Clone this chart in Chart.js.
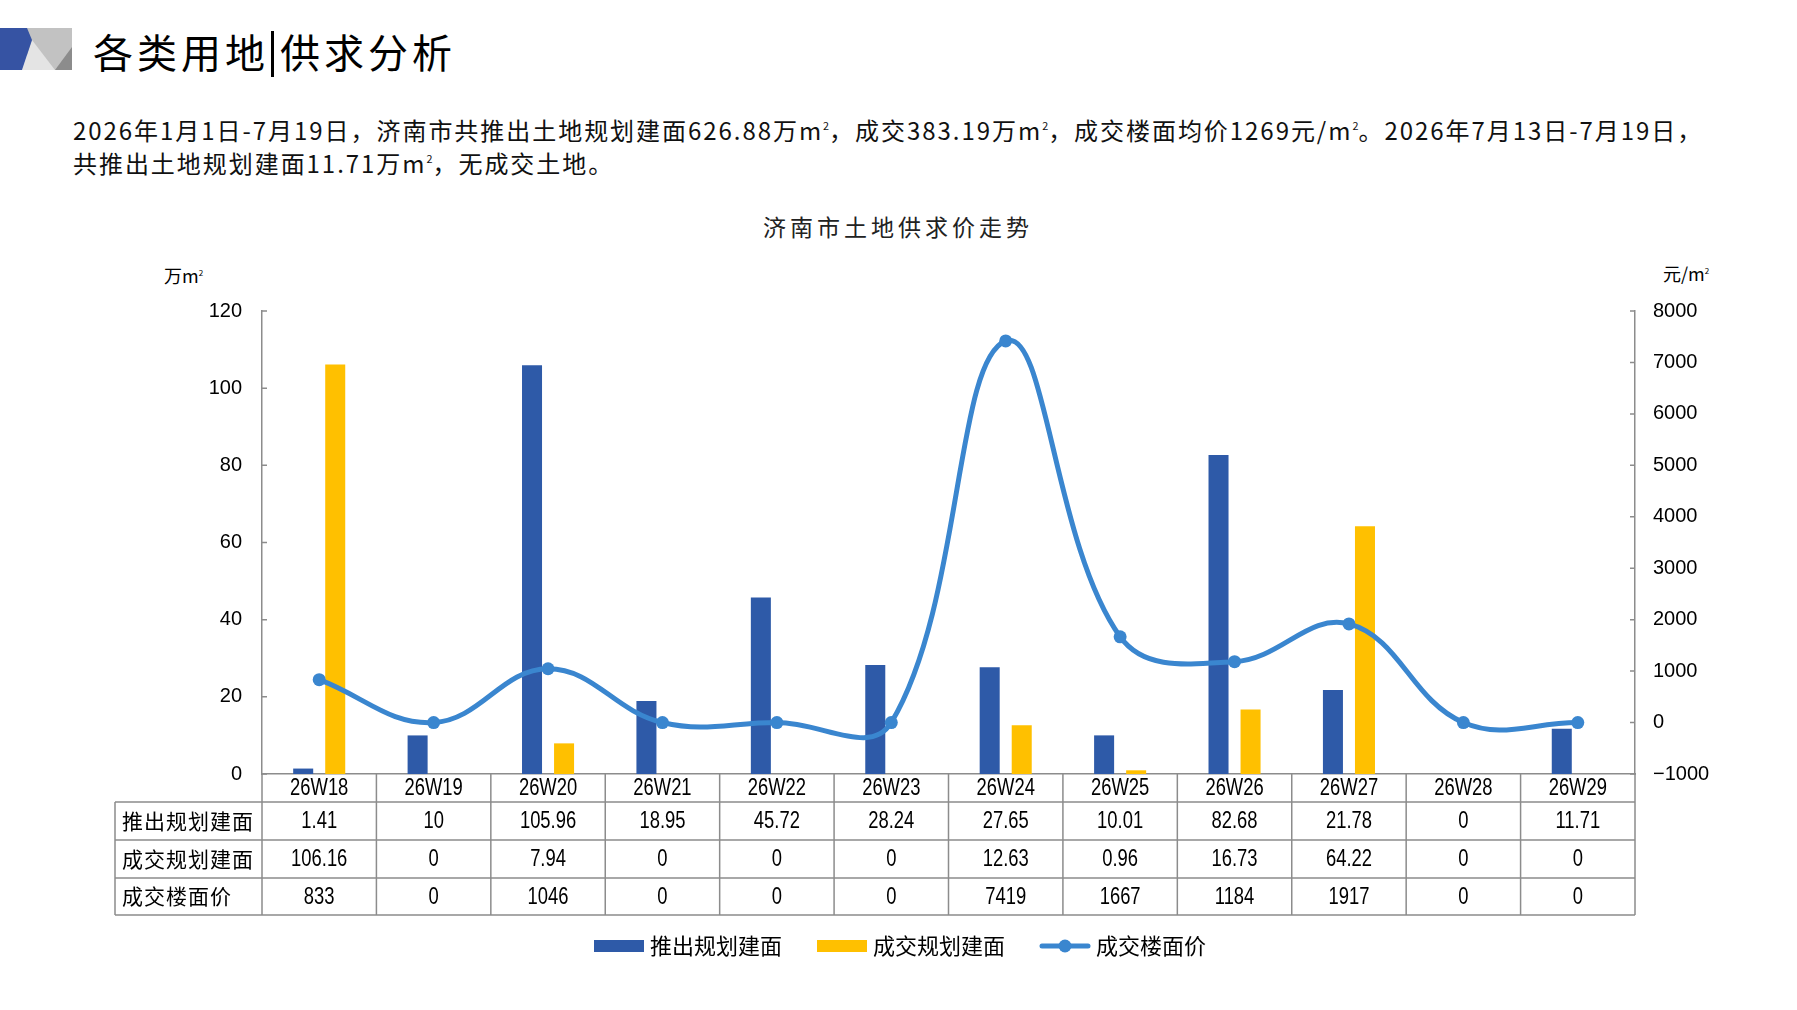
<!DOCTYPE html>
<html><head><meta charset="utf-8">
<script src="https://cdn.jsdelivr.net/npm/chart.js@4.4.1/dist/chart.umd.min.js"></script>
<style>
html,body{margin:0;padding:0;background:#fff;width:1797px;height:1010px;overflow:hidden;}
#c{position:absolute;left:0;top:0;}
.t{position:absolute;white-space:nowrap;color:#000;font-family:'Noto Sans CJK SC',sans-serif;line-height:1;}
.vbar{display:inline-block;width:3px;height:46px;background:#000;vertical-align:middle;margin:0 6px 0 2px;position:relative;top:-3px;}
sup{font-size:0.45em;vertical-align:0.9em;letter-spacing:0;}
</style></head><body>
<svg width="80" height="80" style="position:absolute;left:0;top:0">
  <rect x="27" y="28" width="45" height="42" fill="#c2c2c2"/>
  <polygon points="32,40 55,70 22,70" fill="#e4e4e4"/>
  <polygon points="55,70 72,47 72,70" fill="#8c8c8c"/>
  <polygon points="0,28 27,28 32,40 22,70 0,70" fill="#3653a3"/>
</svg>
<div class="t" id="title" style="left:93px;top:31px;font-size:40px;letter-spacing:4px;">各类用地<span class="vbar"></span>供求分析</div>
<div class="t" id="p1" style="left:73px;top:118px;font-size:24px;color:#111;">2026年1月1日-7月19日，济南市共推出土地规划建面626.88万m<sup>2</sup>，成交383.19万m<sup>2</sup>，成交楼面均价1269元/m<sup>2</sup>。2026年7月13日-7月19日，</div>
<div class="t" id="p2" style="left:73px;top:151px;font-size:24px;color:#111;">共推出土地规划建面11.71万m<sup>2</sup>，无成交土地。</div>
<div class="t" id="ctitle" style="left:898px;top:215px;font-size:23px;letter-spacing:4px;transform:translateX(-50%);color:#222;">济南市土地供求价走势</div>
<div class="t" style="left:164px;top:266px;font-size:18px;">万m<sup>2</sup></div>
<div class="t" style="left:1663px;top:264px;font-size:18px;">元/m<sup>2</sup></div>
<canvas id="c" width="1797" height="1010"></canvas>
<script>
// ---- data ----
const weeks = ['26W18','26W19','26W20','26W21','26W22','26W23','26W24','26W25','26W26','26W27','26W28','26W29'];
const supplyArea = [1.41, 10, 105.96, 18.95, 45.72, 28.24, 27.65, 10.01, 82.68, 21.78, 0, 11.71];
const dealArea = [106.16, 0, 7.94, 0, 0, 0, 12.63, 0.96, 16.73, 64.22, 0, 0];
const dealPrice = [833, 0, 1046, 0, 0, 0, 7419, 1667, 1184, 1917, 0, 0];
const seriesNames = ['推出规划建面', '成交规划建面', '成交楼面价'];
const areaAxis = {min: 0, max: 120, step: 20};
const priceAxis = {min: -1000, max: 8000, step: 1000};

// fit paragraph width
(function(){
  const p1 = document.getElementById('p1'), p2 = document.getElementById('p2');
  const w = p1.getBoundingClientRect().width;
  const ls = (1636 - w) / p1.textContent.length;
  p1.style.letterSpacing = ls + 'px'; p2.style.letterSpacing = ls + 'px';
})();

const BLUE = '#2e5aa8', YELLOW = '#ffc000', LINE = '#3a86cf', GRID = '#8c8c8c';
const NUMFONT = "'Liberation Sans',sans-serif";
const CJK = "'Noto Sans CJK SC',sans-serif";

function swatch(color, isLine){
  const c = document.createElement('canvas'); c.width = 52; c.height = 14;
  const g = c.getContext('2d');
  if (isLine) {
    g.strokeStyle = color; g.lineWidth = 5; g.lineCap = 'round';
    g.beginPath(); g.moveTo(3, 7); g.lineTo(49, 7); g.stroke();
    g.fillStyle = color; g.beginPath(); g.arc(26, 7, 6.5, 0, Math.PI * 2); g.fill();
  } else { g.fillStyle = color; g.fillRect(1, 1, 50, 12); }
  return c;
}
const swatches = [swatch(BLUE), swatch(YELLOW), swatch(LINE, true)];

function narrowText(ctx, txt, cx, cy){
  ctx.save(); ctx.translate(cx, cy); ctx.scale(0.8, 1);
  ctx.fillText(txt, 0, 0); ctx.restore();
}

const tablePlugin = {
  id: 'table',
  afterDraw(chart){
    const {ctx, chartArea: a, scales: {x}} = chart;
    const rowsY = [a.bottom, a.bottom + 28, a.bottom + 66, a.bottom + 104, a.bottom + 141];
    const left = 115;
    const cw = (x.right - x.left) / weeks.length;
    ctx.save();
    ctx.strokeStyle = GRID; ctx.lineWidth = 1.5;
    ctx.beginPath();
    for (let r = 1; r < rowsY.length; r++) { ctx.moveTo(left, rowsY[r]); ctx.lineTo(x.right, rowsY[r]); }
    ctx.moveTo(left, rowsY[1]); ctx.lineTo(left, rowsY[4]);
    for (let i = 0; i <= weeks.length; i++) {
      const xx = x.getPixelForValue(0) - cw / 2 + i * cw;
      ctx.moveTo(xx, rowsY[0]); ctx.lineTo(xx, rowsY[4]);
    }
    ctx.stroke();
    ctx.fillStyle = '#000'; ctx.textBaseline = 'middle'; ctx.textAlign = 'center';
    // category labels (x axis)
    ctx.font = '23px ' + NUMFONT;
    weeks.forEach((w, i) => narrowText(ctx, w, x.getPixelForValue(i), (rowsY[0] + rowsY[1]) / 2 + 1));
    const rows = [supplyArea, dealArea, dealPrice];
    rows.forEach((vals, r) => {
      const cy = (rowsY[r + 1] + rowsY[r + 2]) / 2;
      ctx.textAlign = 'left'; ctx.font = '21px ' + CJK;
      ctx.letterSpacing = '1px';
      ctx.fillText(seriesNames[r], left + 7, cy);
      ctx.letterSpacing = '0px';
      ctx.textAlign = 'center'; ctx.font = '23px ' + NUMFONT;
      vals.forEach((v, i) => narrowText(ctx, String(v), x.getPixelForValue(i), cy + 1));
    });
    // inward tick marks on value axes
    ctx.strokeStyle = GRID; ctx.lineWidth = 1.5; ctx.beginPath();
    ['y', 'y1'].forEach(id => {
      const s = chart.scales[id];
      const ax = s.position === 'left' ? s.right : s.left;
      const dir = s.position === 'left' ? 1 : -1;
      s.ticks.forEach((t, i) => { const py = s.getPixelForTick(i); ctx.moveTo(ax, py); ctx.lineTo(ax + dir * 5, py); });
    });
    ctx.stroke();
    ctx.restore();
  }
};

new Chart(document.getElementById('c'), {
  data: {
    labels: weeks,
    datasets: [
      {type: 'bar', label: seriesNames[0], data: supplyArea, backgroundColor: BLUE, yAxisID: 'y',
       categoryPercentage: 0.56, barPercentage: 0.625, order: 0},
      {type: 'bar', label: seriesNames[1], data: dealArea, backgroundColor: YELLOW, yAxisID: 'y',
       categoryPercentage: 0.56, barPercentage: 0.625, order: 0},
      {type: 'line', label: seriesNames[2], data: dealPrice, yAxisID: 'y1', borderColor: LINE, backgroundColor: LINE,
       borderWidth: 5, pointRadius: 6.5, pointBackgroundColor: LINE, pointBorderWidth: 0, tension: 0.4, order: -1}
    ]
  },
  options: {
    responsive: false, animation: false,
    layout: {padding: {top: 311, left: 8, right: 0, bottom: 43}},
    plugins: {
      tooltip: {enabled: false},
      title: {display: false},
      legend: {
        position: 'bottom',
        labels: {
          usePointStyle: true, pointStyleWidth: 40, boxHeight: 14, padding: 40,
          font: {size: 22, family: CJK}, color: '#000',
          generateLabels(chart){
            const items = Chart.defaults.plugins.legend.labels.generateLabels(chart);
            items.forEach(it => { it.pointStyle = swatches[it.datasetIndex]; });
            return items;
          },
          sort: (a, b) => a.datasetIndex - b.datasetIndex
        }
      }
    },
    scales: {
      x: {
        offset: true,
        grid: {display: false, drawTicks: false},
        border: {display: true, color: GRID, width: 1.5},
        ticks: {display: false},
        afterFit(s){ s.height = 121; }
      },
      y: {
        position: 'left', min: areaAxis.min, max: areaAxis.max,
        grid: {display: false, drawTicks: false},
        border: {display: true, color: GRID, width: 1.5},
        ticks: {stepSize: areaAxis.step, padding: 20, color: '#000', font: {size: 20, family: NUMFONT},
                callback: v => String(v)},
        afterFit(s){ s.width = 254; }
      },
      y1: {
        position: 'right', min: priceAxis.min, max: priceAxis.max,
        grid: {display: false, drawTicks: false},
        border: {display: true, color: GRID, width: 1.5},
        ticks: {stepSize: priceAxis.step, padding: 18, color: '#000', font: {size: 20, family: NUMFONT},
                callback: v => String(v).replace('-', '\u2212')},
        afterFit(s){ s.width = 162; }
      }
    }
  },
  plugins: [tablePlugin]
});
</script>
</body></html>
